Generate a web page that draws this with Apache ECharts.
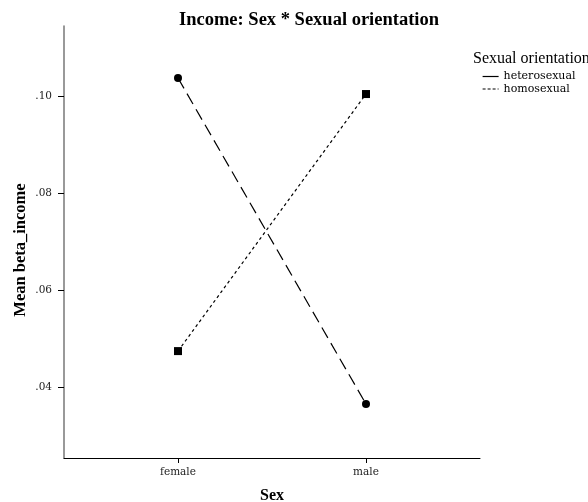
<!DOCTYPE html>
<html>
<head>
<meta charset="utf-8">
<script src="https://cdn.jsdelivr.net/npm/echarts@6/dist/echarts.min.js"></script>
<style>html,body{margin:0;padding:0;background:#fff}#c{width:588px;height:502px}</style>
</head>
<body>
<div id="c"></div>
<script>
const categories = ['female', 'male'];
const heterosexual = [0.1037, 0.0366];
const homosexual = [0.0475, 0.1004];
const yTicks = [0.04, 0.06, 0.08, 0.10];
const yTickLabels = ['.04', '.06', '.08', '.10'];
const seriesNames = ['heterosexual', 'homosexual'];

const chart = echarts.init(document.getElementById('c'), null, {renderer: 'canvas'});
const serif = '"Liberation Serif", "DejaVu Serif", serif';
const dserif = '"DejaVu Serif", "Liberation Serif", serif';
const pts = arr => arr.map((v, i) => [i, v]);

chart.setOption({
  backgroundColor: '#fff',
  animation: false,
  title: [
    {text: 'Income: Sex * Sexual orientation', left: 304, top: 6, textAlign: 'center',
     textStyle: {fontFamily: serif, fontWeight: 'bold', fontSize: 18.5, color: '#000'}},
    {text: 'Sexual orientation', left: 473, top: 51, padding: 0,
     textStyle: {fontFamily: serif, fontWeight: 'normal', fontSize: 16, color: '#000'}}
  ],
  legend: {
    orient: 'vertical', left: 482, top: 71, itemGap: 1.5, itemWidth: 16, itemHeight: 12,
    padding: 0,
    textStyle: {fontFamily: dserif, fontSize: 11, color: '#000'},
    data: [
      {name: seriesNames[0], itemStyle: {opacity: 0}, lineStyle: {type: 'solid', width: 1.2, color: '#000'}},
      {name: seriesNames[1], itemStyle: {opacity: 0}, lineStyle: {type: [3, 2], width: 1.2, color: '#000'}}
    ]
  },
  grid: {left: 64, top: 26, right: 108, bottom: 44, outerBoundsMode: 'none', containLabel: false},
  xAxis: {
    type: 'value', min: -0.6064, max: 1.6064,
    name: 'Sex', nameLocation: 'middle', nameGap: 30, nameMoveOverlap: false,
    nameTextStyle: {fontFamily: serif, fontWeight: 'bold', fontSize: 16, color: '#000'},
    axisLine: {show: true, onZero: false, lineStyle: {color: '#000', width: 1}},
    axisTick: {show: true, length: 5, customValues: [0, 1], lineStyle: {color: '#000'}},
    axisLabel: {customValues: [0, 1], formatter: v => categories[Math.round(v)] || '',
      fontFamily: dserif, fontSize: 10.5, color: '#222', margin: 9},
    splitLine: {show: false}
  },
  yAxis: {
    type: 'value', min: 0.0255, max: 0.1144,
    name: 'Mean beta_income', nameLocation: 'middle', nameGap: 35, nameRotate: 90, nameMoveOverlap: false,
    nameTextStyle: {fontFamily: serif, fontWeight: 'bold', fontSize: 16.5, color: '#000', padding: [0, 16, 0, 0]},
    axisLine: {show: true, onZero: false, lineStyle: {color: '#777', width: 1.5}},
    axisTick: {show: true, length: 6, customValues: yTicks, lineStyle: {color: '#000'}},
    axisLabel: {customValues: yTicks,
      formatter: v => { const i = yTicks.findIndex(t => Math.abs(t - v) < 1e-6); return i >= 0 ? yTickLabels[i] : ''; },
      fontFamily: dserif, fontSize: 10.5, color: '#222', margin: 12},
    splitLine: {show: false}
  },
  series: [
    {name: seriesNames[0], type: 'line', data: pts(heterosexual), symbol: 'circle', symbolSize: 8,
     itemStyle: {color: '#000'}, lineStyle: {color: '#000', width: 1.2, type: [12, 6]}},
    {name: seriesNames[1], type: 'line', data: pts(homosexual), symbol: 'rect', symbolSize: 8,
     itemStyle: {color: '#000'}, lineStyle: {color: '#000', width: 1.2, type: [3, 3]}}
  ]
});
</script>
</body>
</html>
